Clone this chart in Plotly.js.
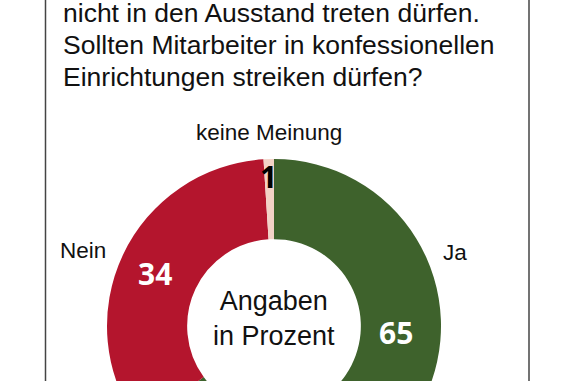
<!DOCTYPE html>
<html>
<head>
<meta charset="utf-8">
<script src="https://cdn.plot.ly/plotly-3.0.1.min.js"></script>
<style>
html, body { margin:0; padding:0; background:#fff; overflow:hidden; width:576px; height:381px; }
#wrap { width:576px; height:381px; overflow:hidden; position:relative; }
#chart { width:576px; height:520px; }
</style>
</head>
<body>
<div id="wrap"><div id="chart"></div></div>
<script>
// ---- data ----
const titleLines = [
  "nicht in den Ausstand treten dürfen.",
  "Sollten Mitarbeiter in konfessionellen",
  "Einrichtungen streiken dürfen?"
];
const categories = ["Ja", "Nein", "keine Meinung"];
const values = [65, 34, 1];
const centerText = "Angaben<br>in Prozent";

// ---- styling / layout (pixel positions) ----
const W = 576, H = 520;
const colors = ["#3e622c", "#b4152d", "#f2d2c6"];
const regular = "'Liberation Sans', Arial, sans-serif";
const boldFont = "'Open Sans', 'DejaVu Sans', sans-serif";

const px = x => x / W;
const py = y => 1 - y / H;

const cx = 274, cy = 326, R = 167;

const annotations = [];
const titleY = [-4, 28, 60];
titleLines.forEach((t, i) => {
  annotations.push({
    text: t, xref: "paper", yref: "paper", x: px(61), y: py(titleY[i]),
    xanchor: "left", yanchor: "top", showarrow: false,
    font: {family: regular, size: 26.5, color: "#111"}
  });
});
const labelPos = [[455, 252], [83, 250], [269, 132]];
categories.forEach((c, i) => {
  annotations.push({
    text: c, xref: "paper", yref: "paper", x: px(labelPos[i][0]), y: py(labelPos[i][1]),
    xanchor: "center", yanchor: "middle", showarrow: false,
    font: {family: regular, size: 22.5, color: "#111"}
  });
});
const valuePos = [[396, 332], [155, 273], [268, 176]];
const valueColors = ["#fff", "#fff", "#000"];
values.forEach((v, i) => {
  annotations.push({
    text: "<b>" + v + "</b>", xref: "paper", yref: "paper", x: px(valuePos[i][0]), y: py(valuePos[i][1]),
    xanchor: "center", yanchor: "middle", showarrow: false,
    font: {family: boldFont, size: 30, color: valueColors[i]}
  });
});
annotations.push({
  text: centerText, xref: "paper", yref: "paper", x: px(cx), y: py(318),
  xanchor: "center", yanchor: "middle", showarrow: false, align: "center",
  font: {family: regular, size: 27, color: "#111"}
});

const trace = {
  type: "pie",
  labels: categories,
  values: values,
  sort: false,
  direction: "clockwise",
  rotation: 0,
  hole: 0.52,
  textinfo: "none",
  hoverinfo: "none",
  marker: {colors: colors, line: {width: 0}},
  domain: {x: [px(cx - R), px(cx + R)], y: [py(cy + R), py(cy - R)]},
  showlegend: false
};

const layout = {
  width: W, height: H,
  margin: {l: 0, r: 0, t: 0, b: 0},
  paper_bgcolor: "#fff",
  showlegend: false,
  annotations: annotations,
  shapes: [
    {type: "line", xref: "paper", yref: "paper", x0: px(45.5), x1: px(45.5), y0: 0, y1: 1, line: {color: "#444", width: 1.5}},
    {type: "line", xref: "paper", yref: "paper", x0: px(529), x1: px(529), y0: 0, y1: 1, line: {color: "#444", width: 1.5}}
  ]
};

Plotly.newPlot("chart", [trace], layout, {displayModeBar: false, staticPlot: true});
</script>
</body>
</html>
